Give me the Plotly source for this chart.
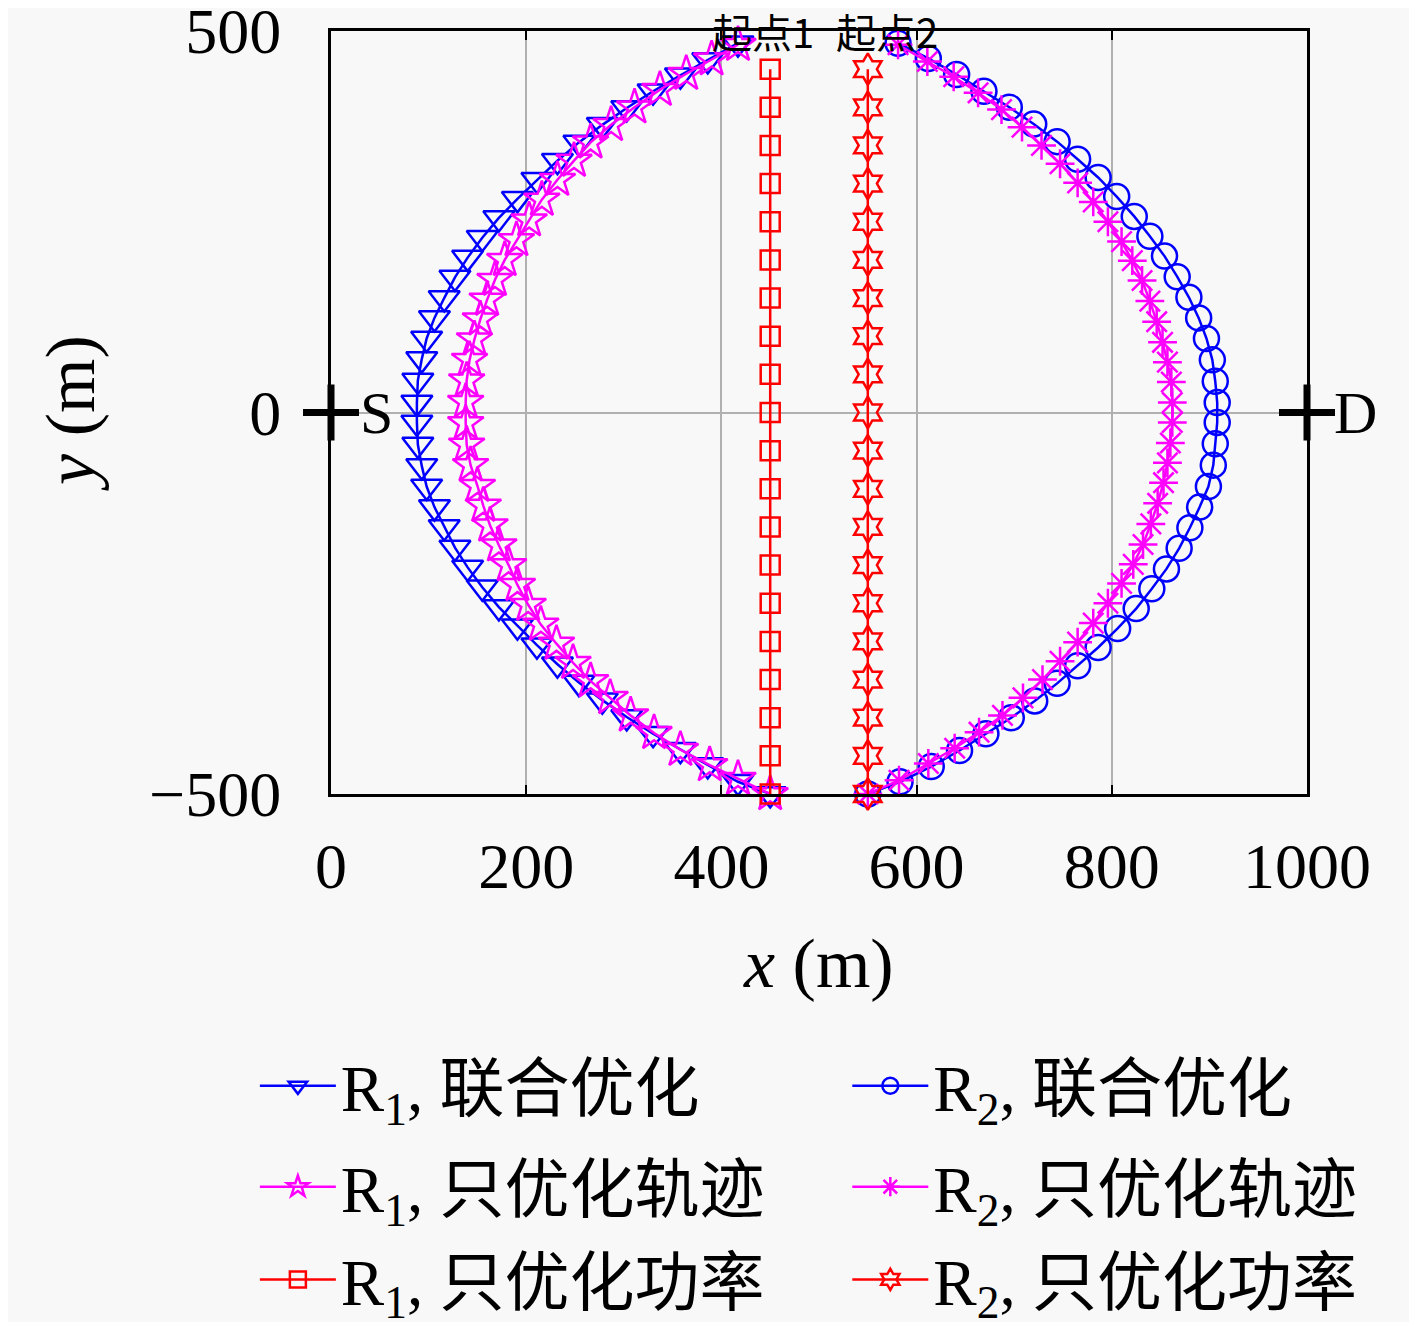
import plotly.graph_objects as go

# ---------------- data ----------------
r1_joint_x = [417, 386, 358, 330, 303, 278, 254, 232, 211, 191, 172, 155, 140, 127, 116, 106, 98, 93, 89, 88,
              88, 89, 93, 98, 106, 116, 127, 140, 155, 172, 191, 211, 232, 254, 278, 303, 330, 358, 386, 417, 450]
r1_joint_y = [484, 462, 442, 421, 399, 377, 354, 330, 305, 280, 255, 229, 203, 177, 150, 124, 97, 70, 42, 13,
              -13, -42, -70, -97, -124, -150, -177, -203, -229, -255, -280, -305, -330, -354, -377, -399, -421, -442, -462, -484, -500]

r1_traj_x = [417, 390, 364, 337, 311, 287, 266, 249, 232, 216, 203, 190, 178, 168, 160, 153, 147, 142, 139, 138,
             138, 139, 143, 150, 156, 163, 172, 182, 191, 202, 215, 231, 248, 266, 286, 307, 331, 358, 388, 417, 450]
r1_traj_y = [482, 463, 444, 423, 400, 377, 354, 330, 305, 279, 252, 226, 200, 174, 148, 122, 96, 69, 42, 14,
             -14, -42, -69, -96, -122, -148, -174, -200, -226, -252, -278, -303, -328, -352, -374, -397, -420, -442, -462, -480, -500]

r2_joint_x = [581, 612, 641, 669, 695, 720, 744, 765, 786, 805, 823, 839, 854, 867, 879, 889, 897, 903, 906, 908,
              908, 906, 904, 899, 890, 880, 869, 856, 841, 825, 806, 786, 765, 744, 721, 697, 671, 644, 615, 583, 550]
r2_joint_y = [484, 464, 443, 421, 400, 378, 355, 332, 308, 283, 257, 231, 205, 178, 151, 124, 97, 69, 41, 13,
              -13, -41, -69, -97, -124, -151, -178, -205, -231, -257, -283, -308, -332, -355, -378, -400, -421, -443, -464, -484, -500]

r2_traj_x = [581, 611, 638, 663, 687, 708, 728, 747, 765, 781, 796, 810, 821, 831, 839, 846, 852, 857, 861, 862,
             862, 860, 857, 853, 847, 840, 832, 822, 810, 796, 781, 765, 747, 729, 709, 688, 664, 639, 612, 582, 550]
r2_traj_y = [482, 460, 440, 419, 397, 374, 350, 326, 301, 276, 250, 224, 199, 173, 146, 119, 92, 66, 40, 13,
             -13, -40, -66, -92, -119, -146, -173, -199, -224, -250, -276, -301, -326, -350, -374, -397, -419, -440, -460, -482, -500]

r1_power_x = [450] * 20
r2_power_x = [550] * 20
power_y = [450, 400, 350, 300, 250, 200, 150, 100, 50, 0,
           -50, -100, -150, -200, -250, -300, -350, -400, -450, -500]

node_x = [0, 1000]
node_y = [0, 0]
node_labels = ["S", "D"]
node_label_shift = [45, 48]

point_labels = ["起点1", "起点2", "终点1", "终点2"]
point_label_x = [443, 570, 341, 636]
point_label_y = [500, 500, -504, -504]

x_ticks = [0, 200, 400, 600, 800, 1000]
y_ticks = [-500, 0, 500]
y_ticktext = ["−500", "0", "500"]

names = ["R<sub>1</sub>, 联合优化", "R<sub>2</sub>, 联合优化",
         "R<sub>1</sub>, 只优化轨迹", "R<sub>2</sub>, 只优化轨迹",
         "R<sub>1</sub>, 只优化功率", "R<sub>2</sub>, 只优化功率"]

BLUE = "rgb(0,0,255)"
MAG = "rgb(255,0,255)"
RED = "rgb(255,0,0)"

SERIF = "Liberation Serif, Noto Sans CJK SC, serif"

fig = go.Figure()

def add(x, y, name, color, symbol, size, leg):
    fig.add_trace(go.Scatter(
        x=x, y=y, name=name, mode="lines+markers",
        line=dict(color=color, width=2.5),
        marker=dict(symbol=symbol, size=size, color=color,
                    line=dict(color=color, width=2.5)),
        legend=leg, cliponaxis=False))

add(r1_joint_x, r1_joint_y, names[0], BLUE, "triangle-down-open", 27, "legend")
add(r1_traj_x, r1_traj_y, names[2], MAG, "star-open", 27, "legend3")
add(r2_joint_x, r2_joint_y, names[1], BLUE, "circle-open", 25, "legend2")
add(r2_traj_x, r2_traj_y, names[3], MAG, "asterisk-open", 24, "legend4")
add(r1_power_x, power_y, names[4], RED, "square-open", 19, "legend5")
add(r2_power_x, power_y, names[5], RED, "hexagram-open", 24, "legend6")

# S and D nodes
fig.add_trace(go.Scatter(
    x=node_x, y=node_y, mode="markers", showlegend=False, cliponaxis=False,
    marker=dict(symbol="cross-thin-open", size=40, color="black",
                line=dict(color="black", width=7))))

annotations = []
for lab, nx, sh in zip(node_labels, node_x, node_label_shift):
    annotations.append(dict(x=nx, y=0, xref="x", yref="y", text=lab, showarrow=False,
                            xshift=sh,
                            font=dict(family=SERIF, size=60, color="black"),
                            xanchor="center", yanchor="middle"))
for lab, lx, ly in zip(point_labels, point_label_x, point_label_y):
    annotations.append(dict(x=lx, y=ly, xref="x", yref="y", text=lab, showarrow=False,
                            font=dict(family="Noto Sans CJK SC, sans-serif", size=40, color="black"),
                            xanchor="center", yanchor="middle"))
# axis titles
annotations.append(dict(x=0.499, y=-0.222, xref="paper", yref="paper",
                        text="<i>x</i> (m)", showarrow=False,
                        font=dict(family=SERIF, size=70, color="black"),
                        xanchor="center", yanchor="middle"))
annotations.append(dict(x=-0.267, y=0.5, xref="paper", yref="paper",
                        text="<i>y</i> (m)", showarrow=False, textangle=-90,
                        font=dict(family=SERIF, size=70, color="black"),
                        xanchor="center", yanchor="middle"))

axis_common = dict(showline=True, linecolor="black", linewidth=3, mirror="ticks",
                   ticks="inside", ticklen=9, tickwidth=2, tickcolor="black",
                   showgrid=True, gridcolor="rgb(176,176,176)", gridwidth=2,
                   zeroline=False, tickfont=dict(family=SERIF, size=64, color="black"),
                   ticklabeloverflow="allow")

legend_font = dict(family=SERIF, size=65, color="black")
leg_x = [-0.078, 0.529]
leg_y = [-0.3828, -0.5150, -0.6365]

layout_legends = {}
for i in range(6):
    key = "legend" if i == 0 else f"legend{i + 1}"
    layout_legends[key] = dict(
        x=leg_x[i % 2], y=leg_y[i // 2], xanchor="left", yanchor="middle",
        orientation="h", bgcolor="rgba(0,0,0,0)", itemwidth=76,
        font=legend_font)

fig.update_layout(
    width=1401, height=1314, autosize=False,
    margin=dict(l=323, r=102, t=23, b=528, autoexpand=False),
    paper_bgcolor="#f8f8f8", plot_bgcolor="#f8f8f8",
    xaxis=dict(range=[0, 1000], tickvals=x_ticks, ticklabelstandoff=14, **axis_common),
    yaxis=dict(range=[-500, 500], tickvals=y_ticks, ticktext=y_ticktext,
               ticklabelstandoff=34, **axis_common),
    annotations=annotations,
    showlegend=True,
    **layout_legends,
)

fig.write_html("out.html")
